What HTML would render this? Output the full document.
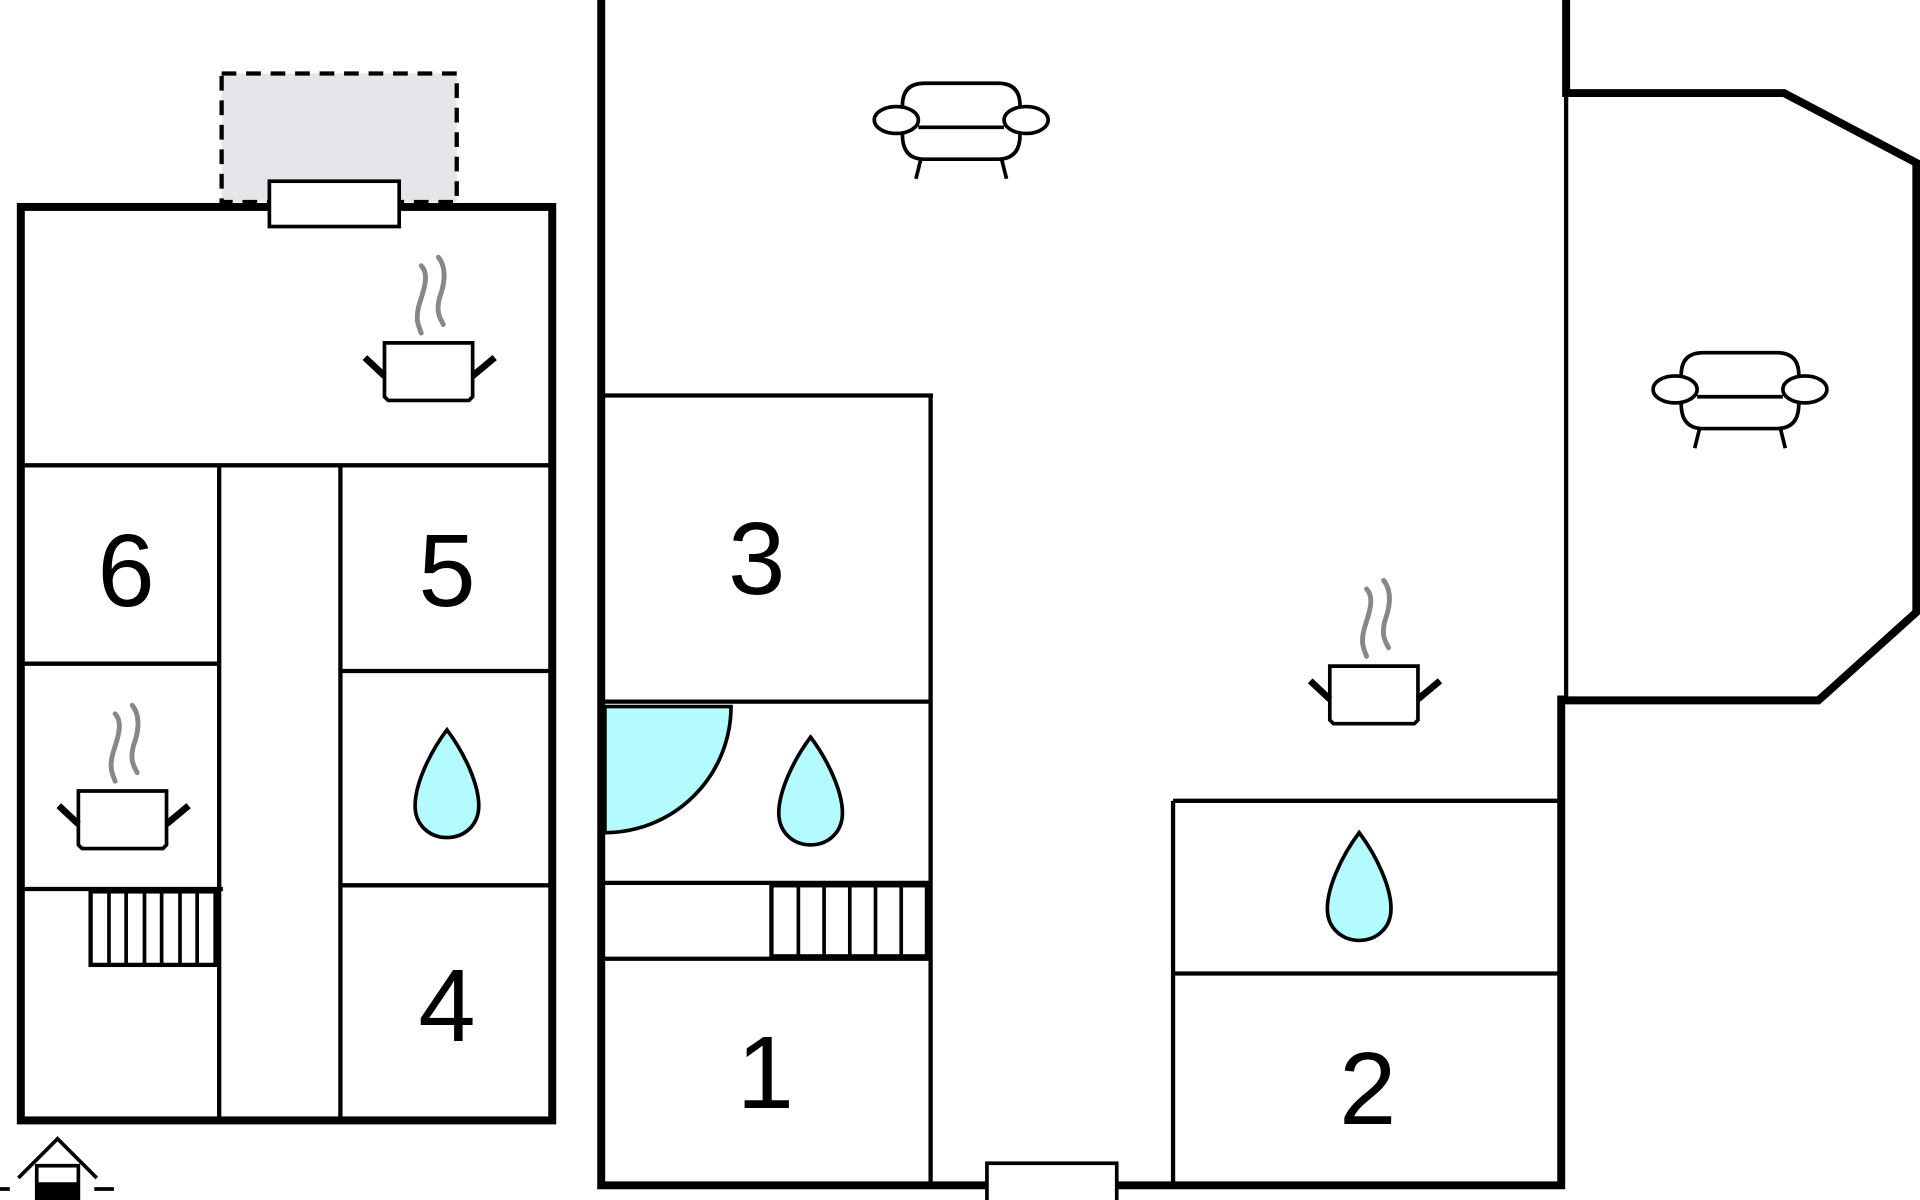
<!DOCTYPE html>
<html><head><meta charset="utf-8"><style>html,body{margin:0;padding:0;background:#fff}svg{display:block}</style></head>
<body>
<svg width="1920" height="1200" viewBox="0 0 1568 980" xmlns="http://www.w3.org/2000/svg">
<defs>
<g id="pot">
<path d="M-6,-83 c8,8 0,25 -2,33 c-3,12 0,16 2,22" fill="none" stroke="#888" stroke-width="4" stroke-linecap="round"/>
<path d="M8,-90 c8,10 4,25 1,33 c-3,12 0,16 3,22" fill="none" stroke="#888" stroke-width="4" stroke-linecap="round"/>
<path d="M-36,-20 H36 V24 L33,27 H-33 L-36,24 Z" fill="#fff" stroke="#000" stroke-width="3"/>
<path d="M-36,7 L-52,-8 M36,7 L54,-8" stroke="#000" stroke-width="5.5"/>
</g>
<g id="sofa" fill="#fff" stroke="#000" stroke-width="3">
<path d="M-48,-10 V-14 Q-48,-32 -30,-32 H30 Q48,-32 48,-14 V-10"/>
<path d="M-48,6 V10 Q-48,30 -30,30 H30 Q48,30 48,10 V6"/>
<line x1="-35" y1="4" x2="35" y2="4"/>
<ellipse cx="-53" cy="-2" rx="18" ry="11"/>
<ellipse cx="53" cy="-2" rx="18" ry="11"/>
<path d="M-33,30 L-37,46 M33,30 L37,46" fill="none"/>
</g>
<path id="drop" d="M0,0 C-15,20 -26,45 -26,62 C-26,78 -14,88 0,88 C14,88 26,78 26,62 C26,45 15,20 0,0Z" fill="#b3fbff" stroke="#000" stroke-width="3"/>
</defs>

<rect x="181" y="60" width="192" height="105" fill="#e6e6ea" stroke="#000" stroke-width="3.5" stroke-dasharray="12,8"/>
<rect x="17" y="169" width="434" height="746" fill="#fff" stroke="#000" stroke-width="6.5"/>
<rect x="220" y="148" width="106" height="37" fill="#fff" stroke="#000" stroke-width="3"/>
<g stroke="#000" stroke-width="3.5" fill="none">
<line x1="20" y1="380" x2="448" y2="380"/>
<line x1="179" y1="380" x2="179" y2="912"/>
<line x1="278" y1="380" x2="278" y2="912"/>
<line x1="20" y1="542" x2="179" y2="542"/>
<line x1="278" y1="548" x2="448" y2="548"/>
<line x1="20" y1="726" x2="182" y2="726"/>
<line x1="278" y1="723" x2="448" y2="723"/>
<rect x="74" y="728" width="102" height="60"/>
<path d="M89,728V788M103,728V788M118,728V788M132,728V788M147,728V788M161,728V788" stroke-width="3"/>
</g>
<use href="#pot" x="350" y="300"/>
<use href="#pot" x="100" y="666"/>
<use href="#drop" x="365" y="596"/>
<g font-family="Liberation Sans, sans-serif" font-size="84" text-anchor="middle">
<text x="103" y="495">6</text>
<text x="365" y="495">5</text>
<text x="365" y="850">4</text>
<text x="618" y="485">3</text>
<text x="625" y="905">1</text>
<text x="1117" y="918">2</text>
</g>

<g stroke="#000" fill="none">
<path d="M15,962 L47,930 L79,962" stroke-width="3"/>
<rect x="30" y="952" width="34" height="30" stroke-width="3"/>
<rect x="30" y="966" width="34" height="14" fill="#000"/>
<path d="M0,971H8M77,971H93" stroke-width="3"/>
</g>

<g stroke="#000" stroke-width="6.5" fill="none">
<path d="M491,0 V968 H806 M912,968 H1275 V568"/>
<path d="M1279,0 V76 H1457 L1565,133 V500 L1485,572 H1275"/>
</g>
<rect x="806" y="950" width="106" height="32" fill="#fff" stroke="#000" stroke-width="3"/>
<g stroke="#000" stroke-width="3.5" fill="none">
<line x1="1279" y1="76" x2="1279" y2="572"/>
<line x1="760" y1="323" x2="760" y2="966"/>
<line x1="494" y1="323" x2="762" y2="323"/>
<line x1="494" y1="573" x2="760" y2="573"/>
<line x1="494" y1="721" x2="760" y2="721"/>
<line x1="494" y1="783" x2="760" y2="783"/>
<rect x="630" y="723" width="127" height="58"/>
<path d="M652,723V781M673,723V781M694,723V781M715,723V781M736,723V781" stroke-width="3"/>
<line x1="958" y1="654" x2="958" y2="966"/>
<line x1="958" y1="654" x2="1272" y2="654"/>
<line x1="958" y1="795" x2="1272" y2="795"/>
</g>
<path d="M494,577 H597 A103,103 0 0 1 494,680 Z" fill="#b3fbff" stroke="#000" stroke-width="3"/>
<use href="#drop" x="662" y="602"/>
<use href="#drop" x="1110" y="680"/>
<use href="#sofa" x="785" y="100"/>
<use href="#sofa" x="1421" y="320"/>
<use href="#pot" x="1122" y="564"/>
</svg>
</body></html>
